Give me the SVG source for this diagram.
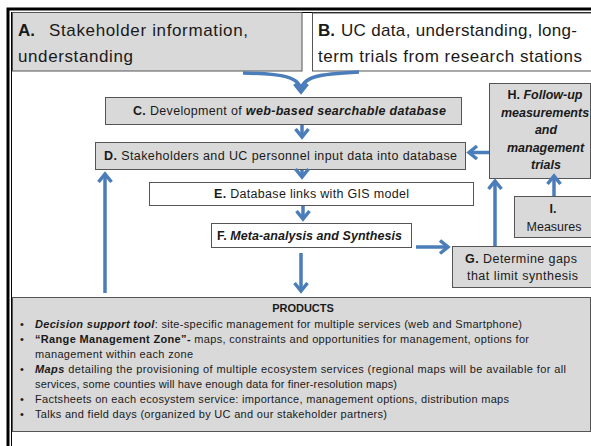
<svg xmlns="http://www.w3.org/2000/svg" width="591" height="446" viewBox="0 0 591 446">
  <style>
    .box-g { fill: #d9d9d9; stroke: #555; stroke-width: 1; }
    .box-w { fill: #ffffff; stroke: #555; stroke-width: 1; }
    .t { font-family: "Liberation Sans", Arial, sans-serif; fill: #1a1a1a; }
    .hdr { font-size: 17px; }
    .lbl { font-size: 12.5px; }
    .prd { font-size: 11px; }
    .b { font-weight: bold; }
    .bi { font-weight: bold; font-style: italic; }
    .conn { fill: none; stroke: #4a7dba; stroke-width: 3.5; marker-end: url(#arrow); }
  </style>
  <defs>
    <marker id="arrow" viewBox="-12 -9 16 18" refX="0" refY="0" markerUnits="userSpaceOnUse" markerWidth="16" markerHeight="18" orient="auto">
      <path d="M-8,-6.5 L0,0 L-8,6.5" fill="none" stroke="#4a7dba" stroke-width="3.5" stroke-linejoin="miter"/>
    </marker>
  </defs>

  <rect width="591" height="446" fill="#ffffff"/>

  <!-- page frame: thick-thin double rule -->
  <rect x="8" y="9" width="600" height="460" fill="none" stroke="#000" stroke-width="3"/>
  <rect x="11.5" y="12.5" width="592" height="452" fill="none" stroke="#000" stroke-width="1"/>

  <g id="node-a">
    <rect class="box-g" x="12.5" y="12.5" width="289.5" height="58.5"/>
    <text class="t hdr" y="36"><tspan class="b" x="18">A.</tspan><tspan x="49" textLength="199">Stakeholder information,</tspan></text>
    <text class="t hdr" x="18" y="62" textLength="115">understanding</text>
  </g>

  <g id="node-b">
    <rect class="box-w" x="312.5" y="13" width="290" height="58"/>
    <text class="t hdr" y="36"><tspan class="b" x="318">B.</tspan><tspan x="341" textLength="236">UC data, understanding, long-</tspan></text>
    <text class="t hdr" x="318" y="62" textLength="264">term trials from research stations</text>
  </g>

  <g id="node-c">
    <rect class="box-g" x="105.5" y="97.5" width="356" height="27"/>
    <text class="t lbl" x="133" y="115" textLength="313"><tspan class="b">C.</tspan> Development of <tspan class="bi">web-based searchable database</tspan></text>
  </g>

  <g id="node-d">
    <rect class="box-g" x="95.5" y="142.5" width="370" height="27"/>
    <text class="t lbl" x="104" y="160" textLength="353"><tspan class="b">D.</tspan> Stakeholders and UC personnel input data into database</text>
  </g>

  <g id="node-e">
    <rect class="box-w" x="149.5" y="182.5" width="324" height="23"/>
    <text class="t lbl" x="214" y="198" textLength="195"><tspan class="b">E.</tspan> Database links with GIS model</text>
  </g>

  <g id="node-f">
    <rect class="box-w" x="211.5" y="223.5" width="200" height="24"/>
    <text class="t lbl" x="217" y="240" textLength="185"><tspan class="b">F.</tspan> <tspan class="bi">Meta-analysis and Synthesis</tspan></text>
  </g>

  <g id="node-h">
    <rect class="box-g" x="489.5" y="83.5" width="101" height="95"/>
    <text class="t lbl" text-anchor="middle" x="545" y="99"><tspan class="b">H.</tspan> <tspan class="bi">Follow-up</tspan></text>
    <text class="t lbl bi" text-anchor="middle" x="545" y="116.5">measurements</text>
    <text class="t lbl bi" text-anchor="middle" x="546" y="134">and</text>
    <text class="t lbl bi" text-anchor="middle" x="545.5" y="151.5">management</text>
    <text class="t lbl bi" text-anchor="middle" x="546" y="169">trials</text>
  </g>

  <g id="node-i">
    <rect class="box-g" x="514.5" y="196.5" width="77" height="41"/>
    <text class="t lbl b" text-anchor="middle" x="553" y="213">I.</text>
    <text class="t lbl" text-anchor="middle" x="554" y="231">Measures</text>
  </g>

  <g id="node-g">
    <rect class="box-g" x="452.5" y="246.5" width="139" height="41"/>
    <text class="t lbl" x="465" y="263" textLength="112"><tspan class="b">G.</tspan> Determine gaps</text>
    <text class="t lbl" x="467" y="280" textLength="111">that limit synthesis</text>
  </g>

  <g id="node-products">
    <rect class="box-g" x="12.5" y="297.5" width="578" height="134"/>
    <text class="t prd b" text-anchor="middle" x="303" y="312">PRODUCTS</text>
    <g class="t prd">
      <text x="20" y="328">•</text>
      <text x="35" y="328" textLength="487"><tspan class="bi">Decision support tool</tspan>: site-specific management for multiple services (web and Smartphone)</text>
      <text x="20" y="343">•</text>
      <text x="35" y="343" textLength="494"><tspan class="b">“Range Management Zone”-</tspan> maps, constraints and opportunities for management, options for</text>
      <text x="35" y="358" textLength="158">management within each zone</text>
      <text x="20" y="373">•</text>
      <text x="35" y="373" textLength="531"><tspan class="bi">Maps</tspan> detailing the provisioning of multiple ecosystem services (regional maps will be available for all</text>
      <text x="35" y="388" textLength="362">services, some counties will have enough data for finer-resolution maps)</text>
      <text x="20" y="403">•</text>
      <text x="35" y="403" textLength="474">Factsheets on each ecosystem service: importance, management options, distribution maps</text>
      <text x="20" y="418">•</text>
      <text x="35" y="418" textLength="352">Talks and field days (organized by UC and our stakeholder partners)</text>
    </g>
  </g>

  <g id="connectors">
    <path class="conn" d="M243,73 C282,74 301,76 301,92"/>
    <path class="conn" style="marker-end:none" d="M359,72 C320,74 301,76 301,92"/>
    <path class="conn" d="M302,125 L302,137"/>
    <path class="conn" d="M489,152.5 L469,152.5"/>
    <path class="conn" d="M302,170 L302,177"/>
    <path class="conn" d="M303,206 L303,219"/>
    <path class="conn" d="M416,247 L448,247"/>
    <path class="conn" d="M301,253 L301,291"/>
    <path class="conn" d="M105,293 L105,174"/>
    <path class="conn" d="M495,246 L495,181"/>
    <path class="conn" d="M554,196 L554,176"/>
  </g>
</svg>
